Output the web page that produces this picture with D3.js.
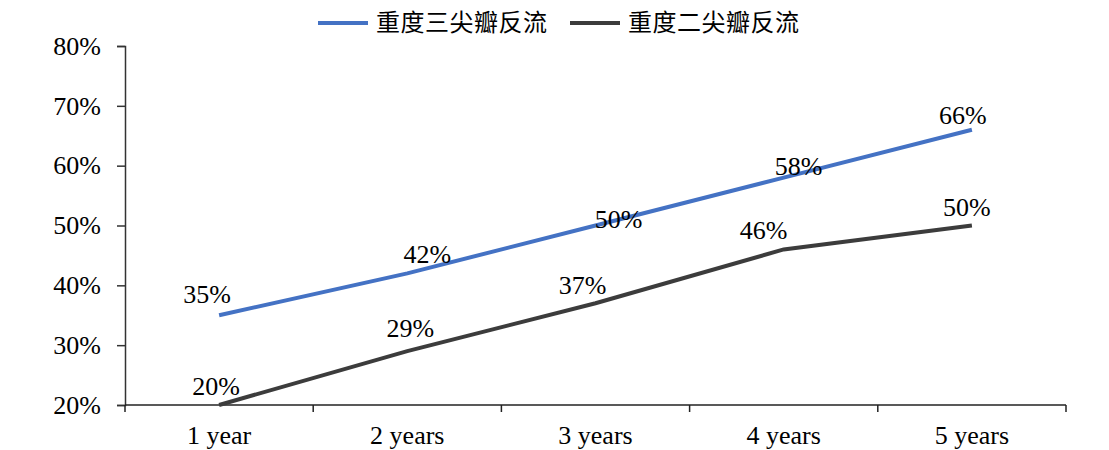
<!DOCTYPE html>
<html>
<head>
<meta charset="utf-8">
<script src="https://cdn.jsdelivr.net/npm/d3@7"></script>
<style>
  body { margin: 0; background: #fff; }
</style>
</head>
<body>
<svg id="chart" width="1109" height="450"></svg>
<script>
var categories = ["1 year", "2 years", "3 years", "4 years", "5 years"];
var seriesNames = ["重度三尖瓣反流", "重度二尖瓣反流"];
var tricuspid = [0.35, 0.42, 0.50, 0.58, 0.66];
var mitral = [0.20, 0.29, 0.37, 0.46, 0.50];
var yTicks = [0.2, 0.3, 0.4, 0.5, 0.6, 0.7, 0.8];
var colors = ["#4472c4", "#3c3c3c"];

var serif = "'Times New Roman', 'Liberation Serif', 'DejaVu Serif', serif";

// label nudges, roughly as placed in the original
var labelNudge = [
  [[-12, -12], [20, -10], [23, 2], [15, -3], [-9, -6]],
  [[-3, -10], [3, -14], [-13, -9], [-20, -10], [-5, -10]]
];

var svg = d3.select("#chart");
var margin = { left: 125, right: 1066, top: 46, bottom: 405 };

var x = d3.scaleBand()
          .domain(categories)
          .range([margin.left, margin.right]);

var y = d3.scaleLinear()
          .domain([0.2, 0.8])
          .range([margin.bottom, margin.top]);

var fmt = d3.format(".0%");

// y axis
var yAxis = d3.axisLeft(y)
              .tickValues(yTicks)
              .tickFormat(fmt)
              .tickSize(8)
              .tickPadding(16);

var gy = svg.append("g")
            .attr("transform", "translate(" + margin.left + ",0)")
            .call(yAxis);
gy.select(".domain").attr("stroke", "#333").attr("stroke-width", 1.5);
gy.selectAll(".tick line").attr("stroke", "#333").attr("stroke-width", 1.5);
gy.selectAll(".tick text")
  .style("font-size", "26px")
  .style("font-family", serif)
  .attr("fill", "#000");

// x axis: line, boundary ticks, centered labels
var gx = svg.append("g");
gx.append("line")
  .attr("x1", margin.left).attr("x2", margin.right)
  .attr("y1", y(0.2)).attr("y2", y(0.2))
  .attr("stroke", "#222").attr("stroke-width", 1.5);

var bounds = categories.map(d => x(d)).concat([margin.right]);
gx.selectAll(".xtick")
  .data(bounds)
  .enter()
    .append("line")
    .attr("x1", d => d).attr("x2", d => d)
    .attr("y1", y(0.2)).attr("y2", y(0.2) + 7)
    .attr("stroke", "#222").attr("stroke-width", 1.5);

gx.selectAll(".xlabel")
  .data(categories)
  .enter()
    .append("text")
    .attr("x", d => x(d) + x.bandwidth() / 2)
    .attr("y", 444)
    .style("font-size", "26px")
    .style("font-family", serif)
    .style("text-anchor", "middle")
    .text(d => d);

// lines
var series = [tricuspid, mitral];
var line = d3.line()
             .x((d, i) => x(categories[i]) + x.bandwidth() / 2)
             .y(d => y(d));

svg.selectAll(".series")
  .data(series)
  .enter()
    .append("path")
    .attr("fill", "none")
    .attr("stroke", (d, i) => colors[i])
    .attr("stroke-width", 4)
    .attr("d", line);

// data labels
series.forEach(function(vals, s) {
  svg.selectAll(".lbl" + s)
    .data(vals)
    .enter()
      .append("text")
      .attr("x", (d, i) => x(categories[i]) + x.bandwidth() / 2 + labelNudge[s][i][0])
      .attr("y", (d, i) => y(d) + labelNudge[s][i][1])
      .style("font-size", "26px")
      .style("font-family", serif)
      .style("text-anchor", "middle")
      .text(d => fmt(d));
});

// legend
var legend = svg.append("g");
var legendX = [318, 570];
seriesNames.forEach(function(name, i) {
  legend.append("line")
    .attr("x1", legendX[i]).attr("x2", legendX[i] + 50)
    .attr("y1", 23).attr("y2", 23)
    .attr("stroke", colors[i])
    .attr("stroke-width", 4);
  legend.append("text")
    .attr("x", legendX[i] + 58)
    .attr("y", 31)
    .style("font-size", "24px")
    .style("font-family", "'Noto Sans CJK SC', sans-serif")
    .style("letter-spacing", "0.5px")
    .text(name);
});
</script>
</body>
</html>
